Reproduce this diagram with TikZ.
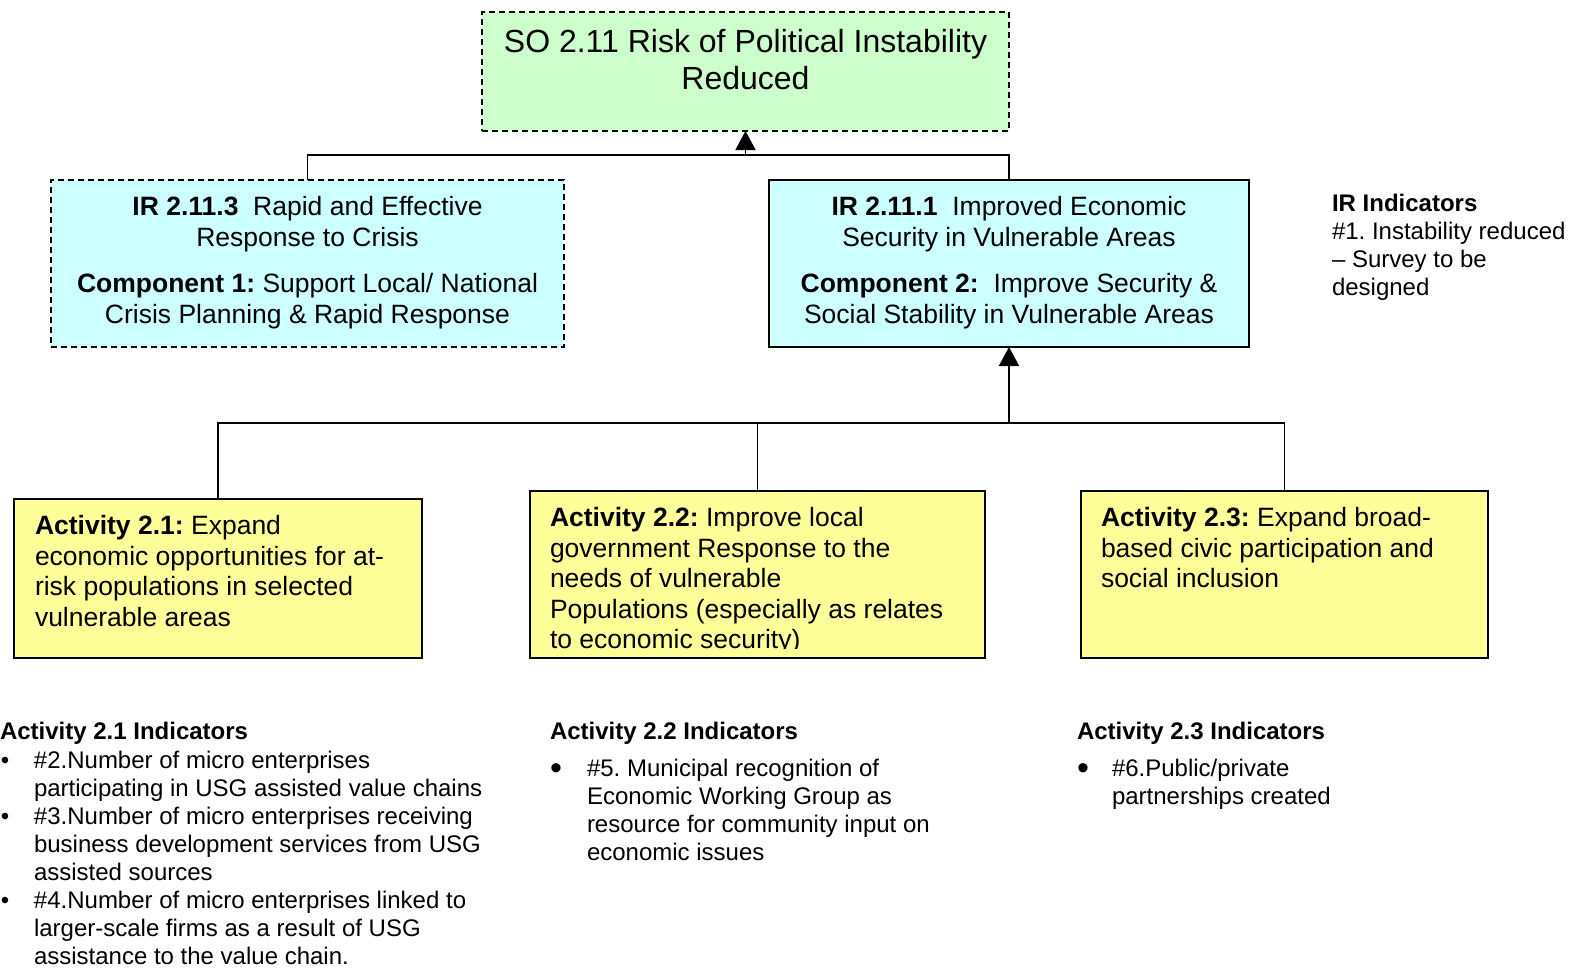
\documentclass[tikz,border=0pt]{standalone}
\usepackage{fontspec}
\setmainfont{Liberation Sans}
\frenchspacing
\usetikzlibrary{arrows.meta}
\definecolor{sogreen}{HTML}{CCFFCC}
\definecolor{ircyan}{HTML}{CCFFFF}
\definecolor{actyellow}{HTML}{FFFF99}

\begin{document}
\begin{tikzpicture}[x=1pt,y=-1pt,
    box/.style={draw=black,line width=1.6pt,inner sep=0pt,outer sep=0pt},
    dashbox/.style={box,dash pattern=on 6pt off 4pt},
    link/.style={draw=black,line width=1.6pt},
    uparrow/.style={link,-{Triangle[width=20pt,length=19pt]}},
    bigfont/.style={font=\fontsize{32}{37}\selectfont},
    boxfont/.style={font=\fontsize{26.5}{31}\selectfont},
    actfont/.style={font=\fontsize{26.5}{30.5}\selectfont},
    indfont/.style={font=\fontsize{24}{28}\selectfont},
    txt/.style={inner sep=0pt,outer sep=0pt}]
    \useasboundingbox (0,0) rectangle (1571,969);

    % boxes
    \node[dashbox,fill=sogreen,minimum width=527pt,minimum height=119pt] (so) at (745.5,71.5) {};
    \node[dashbox,fill=ircyan,minimum width=513pt,minimum height=167pt] (irleft) at (307.5,263.5) {};
    \node[box,fill=ircyan,minimum width=480pt,minimum height=167pt] (irright) at (1009,263.5) {};
    \node[box,fill=actyellow,minimum width=408pt,minimum height=159pt] (actone) at (218,578.5) {};
    \node[box,fill=actyellow,minimum width=455pt,minimum height=167pt] (acttwo) at (757.5,574.5) {};
    \node[box,fill=actyellow,minimum width=407pt,minimum height=167pt] (actthree) at (1284.5,574.5) {};

    % connectors
    \coordinate (sobus) at (0,155);
    \coordinate (actbus) at (0,423);
    \draw[link] (irleft.north) |- (irright.north |- sobus) -- (irright.north);
    \draw[uparrow] (so.south |- sobus) -- (so.south);
    \draw[link] (actone.north) |- (actthree.north |- actbus) -- (actthree.north);
    \draw[link] (acttwo.north) -- (acttwo.north |- actbus);
    \draw[uparrow] (irright.south |- actbus) -- (irright.south);

    % box texts
    \node[txt,bigfont,anchor=north,align=center] (sotext) at ([yshift=-17.5pt]so.north)
        {SO 2.11 Risk of Political Instability\\Reduced};
    \node[txt,boxfont,anchor=north,align=center] (irlefttext) at ([yshift=-16.5pt]irleft.north)
        {\textbf{IR 2.11.3}\ \ Rapid and Effective\\Response to Crisis\\[15pt]\textbf{Component 1:} Support Local/ National\\Crisis Planning \& Rapid Response};
    \node[txt,boxfont,anchor=north,align=center] (irrighttext) at ([yshift=-16.5pt]irright.north)
        {\textbf{IR 2.11.1}\ \ Improved Economic\\Security in Vulnerable Areas\\[15pt]\textbf{Component 2:}\ \ Improve Security \&\\Social Stability in Vulnerable Areas};
    \node[txt,actfont,anchor=north west,align=left] (actonetext) at ([xshift=21pt,yshift=-16.5pt]actone.north west)
        {\textbf{Activity 2.1:} Expand\\economic opportunities for at-\\risk populations in selected\\vulnerable areas};
    \begin{scope}
        \clip (acttwo.north west) rectangle ([yshift=10pt]acttwo.south east);
        \node[txt,actfont,anchor=north west,align=left] (acttwotext) at ([xshift=20pt,yshift=-16.5pt]acttwo.north west)
            {\textbf{Activity 2.2:} Improve local\\government Response to the\\needs of vulnerable\\Populations (especially as relates\\to economic security)};
    \end{scope}
    \node[txt,actfont,anchor=north west,align=left] (actthreetext) at ([xshift=20pt,yshift=-16.5pt]actthree.north west)
        {\textbf{Activity 2.3:} Expand broad-\\based civic participation and\\social inclusion};

    % indicators
    \node[txt,indfont,anchor=north west,align=left] (irind) at (1332,194.4)
        {\textbf{IR Indicators}\\\#1. Instability reduced\\– Survey to be\\designed};
    \node[txt,indfont,anchor=north west] (actonehead) at (0,722.4) {\textbf{Activity 2.1 Indicators}};
    \node[txt,indfont,anchor=north west] (actonelist) at (0,749) {%
        \begin{tabular}{@{}p{34pt}@{}l@{}}
        \hspace{1pt}• & \#2.Number of micro enterprises\\
          & participating in USG assisted value chains\\
        \hspace{1pt}• & \#3.Number of micro enterprises receiving\\
          & business development services from USG\\
          & assisted sources\\
        \hspace{1pt}• & \#4.Number of micro enterprises linked to\\
          & larger-scale firms as a result of USG\\
          & assistance to the value chain.
        \end{tabular}};
    \node[txt,indfont,anchor=north west] (acttwohead) at (550,722.4) {\textbf{Activity 2.2 Indicators}};
    \node[txt,indfont,anchor=north west] (acttwolist) at (550,757) {%
        \begin{tabular}{@{}p{37pt}@{}l@{}}
        {\fontsize{34}{28}\selectfont\raisebox{-3pt}{•}} & \#5. Municipal recognition of\\
          & Economic Working Group as\\
          & resource for community input on\\
          & economic issues
        \end{tabular}};
    \node[txt,indfont,anchor=north west] (actthreehead) at (1077,722.4) {\textbf{Activity 2.3 Indicators}};
    \node[txt,indfont,anchor=north west] (actthreelist) at (1077,757) {%
        \begin{tabular}{@{}p{35pt}@{}l@{}}
        {\fontsize{34}{28}\selectfont\raisebox{-3pt}{•}} & \#6.Public/private\\
          & partnerships created
        \end{tabular}};
\end{tikzpicture}
\end{document}
